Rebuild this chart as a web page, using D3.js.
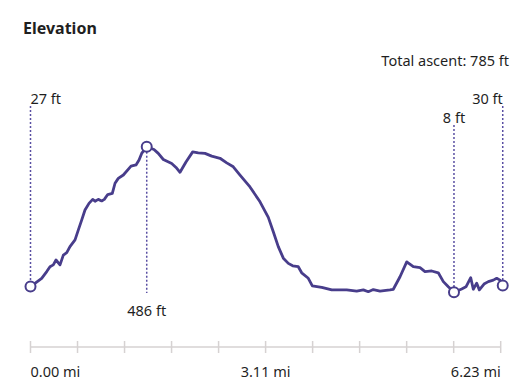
<!DOCTYPE html>
<html lang="en">
<head>
<meta charset="UTF-8">
<title>Elevation</title>
<script src="https://d3js.org/d3.v7.min.js"></script>
<style>
    body { margin: 0; background: #fff; }
    text { font-family: "Noto Sans", sans-serif; fill: #1f1f1f; }
    .title { font-size: 16px; font-weight: 700; }
    .small { font-size: 14.5px; }
</style>
</head>
<body>
<div id="chart"></div>
<script>
    // distance along the trail (mi) and elevation (ft)
    const distance = [0.00, 0.148, 0.215, 0.258, 0.302, 0.338, 0.391, 0.435, 0.480, 0.523,
        0.590, 0.633, 0.678, 0.722, 0.775, 0.824, 0.855, 0.898, 0.943, 0.978,
        1.023, 1.084, 1.120, 1.163, 1.230, 1.332, 1.398, 1.438, 1.473, 1.540,
        1.636, 1.693, 1.760, 1.871, 1.928, 1.981, 2.060, 2.149, 2.223, 2.312,
        2.401, 2.511, 2.600, 2.687, 2.776, 2.908, 3.041, 3.151, 3.217, 3.283,
        3.350, 3.416, 3.474, 3.548, 3.593, 3.681, 3.734, 3.858, 3.991, 4.190,
        4.322, 4.410, 4.476, 4.542, 4.631, 4.763, 4.807, 4.896, 4.985, 5.072,
        5.161, 5.227, 5.316, 5.403, 5.470, 5.536, 5.611, 5.713, 5.770, 5.833,
        5.867, 5.912, 5.947, 6.009, 6.066, 6.132, 6.177, 6.221, 6.257];
    const elevation = [27, 54, 76, 92, 98, 114, 98, 130, 138, 158,
        180, 212, 245, 278, 300, 313, 307, 313, 308, 313,
        329, 333, 366, 382, 393, 422, 426, 442, 464, 486,
        477, 464, 444, 431, 418, 402, 436, 469, 466, 464,
        455, 448, 433, 420, 393, 354, 305, 254, 207, 158,
        120, 103, 95, 92, 72, 54, 29, 24, 16, 16,
        12, 16, 10, 17, 12, 16, 18, 59, 108, 92,
        89, 76, 78, 72, 43, 26, 8, 19, 26, 56,
        18, 38, 16, 35, 43, 48, 54, 48, 30];

    // marked points: index into the series and where the label goes
    const markIndex = [0, 29, 76, 88];
    const markLabelY = [104, 316, 123, 104];
    const markAnchor = ["start", "middle", "middle", "end"];

    const totalMiles = 6.23;
    const tickCount = 10;
    const axisLabels = ["0.00 mi", "3.11 mi", "6.23 mi"];
    const axisLabelTicks = [0, 5, 10];
    const axisLabelAnchor = ["start", "middle", "end"];

    const width = 525, height = 392;
    const lineColor = "#483d8b";

    const data = distance.map((d, i) => ({ d: d, e: elevation[i] }));

    const svg = d3.select("#chart").append("svg")
        .attr("width", width)
        .attr("height", height);

    const x = d3.scaleLinear().domain([0, totalMiles]).range([30.5, 500.7]);
    const y = d3.scaleLinear().domain([8, 486]).range([292.3, 146.7]);

    svg.append("text").attr("class", "title")
        .attr("x", 23).attr("y", 34)
        .text("Elevation");

    svg.append("text").attr("class", "small")
        .attr("x", 509).attr("y", 66)
        .attr("text-anchor", "end")
        .text("Total ascent: 785 ft");

    // bottom axis
    const axisY = 347;
    const ticks = d3.range(tickCount + 1).map(i => i * totalMiles / tickCount);
    svg.append("line")
        .attr("x1", x(0)).attr("x2", x(totalMiles))
        .attr("y1", axisY).attr("y2", axisY)
        .attr("stroke", "#d6d2d2").attr("stroke-width", 1.5);
    svg.selectAll(".tick").data(ticks).enter().append("line")
        .attr("x1", d => x(d)).attr("x2", d => x(d))
        .attr("y1", axisY - 6).attr("y2", axisY + 6)
        .attr("stroke", "#d6d2d2").attr("stroke-width", 1.5);
    svg.selectAll(".axis-label").data(axisLabels).enter().append("text")
        .attr("class", "small")
        .attr("x", (d, i) => x(ticks[axisLabelTicks[i]]))
        .attr("y", 376.5)
        .attr("text-anchor", (d, i) => axisLabelAnchor[i])
        .text(d => d);

    // dotted drop lines
    markIndex.forEach((idx, i) => {
        const p = data[idx];
        const below = markLabelY[i] > y(p.e);
        svg.append("line")
            .attr("x1", x(p.d)).attr("x2", x(p.d))
            .attr("y1", below ? y(p.e) + 5 : markLabelY[i] + 2)
            .attr("y2", below ? markLabelY[i] - 23 : y(p.e) - 5)
            .attr("stroke", "#5a4fa3")
            .attr("stroke-width", 1.5)
            .attr("stroke-dasharray", "2,2");
        svg.append("text").attr("class", "small")
            .attr("x", x(p.d))
            .attr("y", markLabelY[i])
            .attr("text-anchor", markAnchor[i])
            .text(p.e + " ft");
    });

    const line = d3.line()
        .x(d => x(d.d))
        .y(d => y(d.e));

    svg.append("path")
        .datum(data)
        .attr("d", line)
        .attr("fill", "none")
        .attr("stroke", lineColor)
        .attr("stroke-width", 2.8)
        .attr("stroke-linejoin", "round")
        .attr("stroke-linecap", "round");

    svg.selectAll(".marker").data(markIndex).enter().append("circle")
        .attr("cx", i => x(data[i].d))
        .attr("cy", i => y(data[i].e))
        .attr("r", 5)
        .attr("fill", "#fff")
        .attr("stroke", lineColor)
        .attr("stroke-width", 2);
</script>
</body>
</html>
